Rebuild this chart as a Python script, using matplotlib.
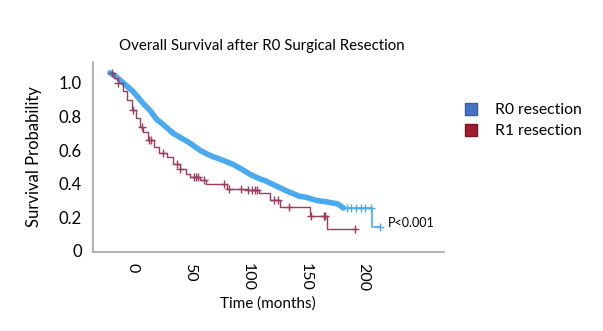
import matplotlib
matplotlib.use("Agg")
import matplotlib.pyplot as plt
from matplotlib.lines import Line2D

plt.rcParams['font.family'] = ['Lato', 'DejaVu Sans']

# R0 resection (blue) survival curve
r0_time = [-20, -15, -10, -5, 0, 5, 10, 15, 21, 25, 30, 35, 40, 45, 50, 55, 58, 65, 70, 74,
           80, 87, 95, 102, 110, 116, 125, 136, 145, 150, 155, 160, 170, 178, 183, 208, 215]
r0_surv = [1.06, 1.04, 1.01, 0.98, 0.95, 0.91, 0.87, 0.835, 0.78, 0.76, 0.73, 0.70, 0.68, 0.66,
           0.64, 0.615, 0.60, 0.575, 0.56, 0.55, 0.535, 0.515, 0.485, 0.455, 0.43, 0.415, 0.385,
           0.35, 0.325, 0.32, 0.31, 0.30, 0.29, 0.28, 0.256, 0.143, 0.143]
r0_dense_end = 183
r0_censor = [186, 190, 194, 198, 202, 207, 215]

# R1 resection (red) survival curve
r1_time = [-20, -16, -13, -9, -5, -1, 3, 6, 9, 13, 18, 23, 30, 35, 41, 46, 50, 58, 64, 76,
           82, 100, 110, 119, 128, 154, 169, 193]
r1_surv = [1.06, 1.03, 1.00, 0.95, 0.90, 0.84, 0.79, 0.74, 0.71, 0.66, 0.62, 0.58, 0.56, 0.52,
           0.49, 0.46, 0.44, 0.42, 0.40, 0.40, 0.37, 0.36, 0.345, 0.30, 0.26, 0.21, 0.13, 0.13]
r1_censor = [-18, -13, 0, 8, 14, 16, 26, 38, 41, 53, 55, 57, 62, 79, 84, 94, 100, 104, 106, 108,
             123, 126, 136, 155, 166, 167, 193]

x_ticks = [0, 50, 100, 150, 200]
y_ticks = [0, 0.2, 0.4, 0.6, 0.8, 1.0]
y_ticklabels = ['0', '0.2', '0.4', '0.6', '0.8', '1.0']

BLUE = '#4aaaf0'
RED = '#9c3a60'

fig = plt.figure(figsize=(6.03, 3.31), dpi=100)
ax = fig.add_axes([0.154, 0.239, 0.582, 0.574])

# step-function evaluation helper for censor markers
def step_val(times, survs, t):
    v = survs[0]
    for ti, si in zip(times, survs):
        if ti <= t:
            v = si
        else:
            break
    return v

# blue: thick dense part + thin tail
dense_t = [t for t in r0_time if t <= r0_dense_end]
dense_s = r0_surv[:len(dense_t)]
ax.plot(dense_t, dense_s, color=BLUE, lw=4.0, solid_capstyle='round', zorder=3)
tail_t = r0_time[len(dense_t) - 1:]
tail_s = r0_surv[len(dense_t) - 1:]
ax.step(tail_t, tail_s, where='post', color=BLUE, lw=1.2, zorder=3)
ax.plot(r0_censor, [step_val(r0_time, r0_surv, t) for t in r0_censor], ls='none',
        marker='+', ms=6, mew=1.0, color=BLUE, zorder=3)

# red
ax.step(r1_time, r1_surv, where='post', color=RED, lw=1.0, zorder=4)
ax.plot(r1_censor, [step_val(r1_time, r1_surv, t) for t in r1_censor], ls='none',
        marker='+', ms=6, mew=1.0, color=RED, zorder=4)

ax.set_xlim(-34.8, 270.4)
ax.set_ylim(-0.006, 1.125)
ax.set_xticks(x_ticks)
ax.set_xticklabels([str(v) for v in x_ticks], rotation=-90, fontsize=11.5)
ax.set_yticks(y_ticks)
ax.set_yticklabels(y_ticklabels, fontsize=12)
ax.tick_params(length=0, pad=8)
for s in ['top', 'right']:
    ax.spines[s].set_visible(False)
for s in ['left', 'bottom']:
    ax.spines[s].set_color('#a6a6a6')
    ax.spines[s].set_linewidth(1.2)

ax.set_xlabel('Time (months)', fontsize=11, labelpad=4)
ax.set_ylabel('Survival Probability', fontsize=12, labelpad=12)
fig.text(0.434, 0.862, 'Overall Survival after R0 Surgical Resection', fontsize=10.8,
         ha='center', va='center')
ax.text(222, 0.165, 'P<0.001', fontsize=9, va='center', ha='left')

handles = [Line2D([], [], ls='none', marker='s', ms=9, color='#4472c4', markeredgecolor='#3a5f9a'),
           Line2D([], [], ls='none', marker='s', ms=9, color='#a01a30', markeredgecolor='#7a1424')]
fig.legend(handles, ['R0 resection', 'R1 resection'], loc='center left',
           bbox_to_anchor=(0.745, 0.635), frameon=False, fontsize=11.3,
           handletextpad=1.0, labelspacing=0.45, handlelength=1.0)

fig.savefig('out.png', dpi=100)
